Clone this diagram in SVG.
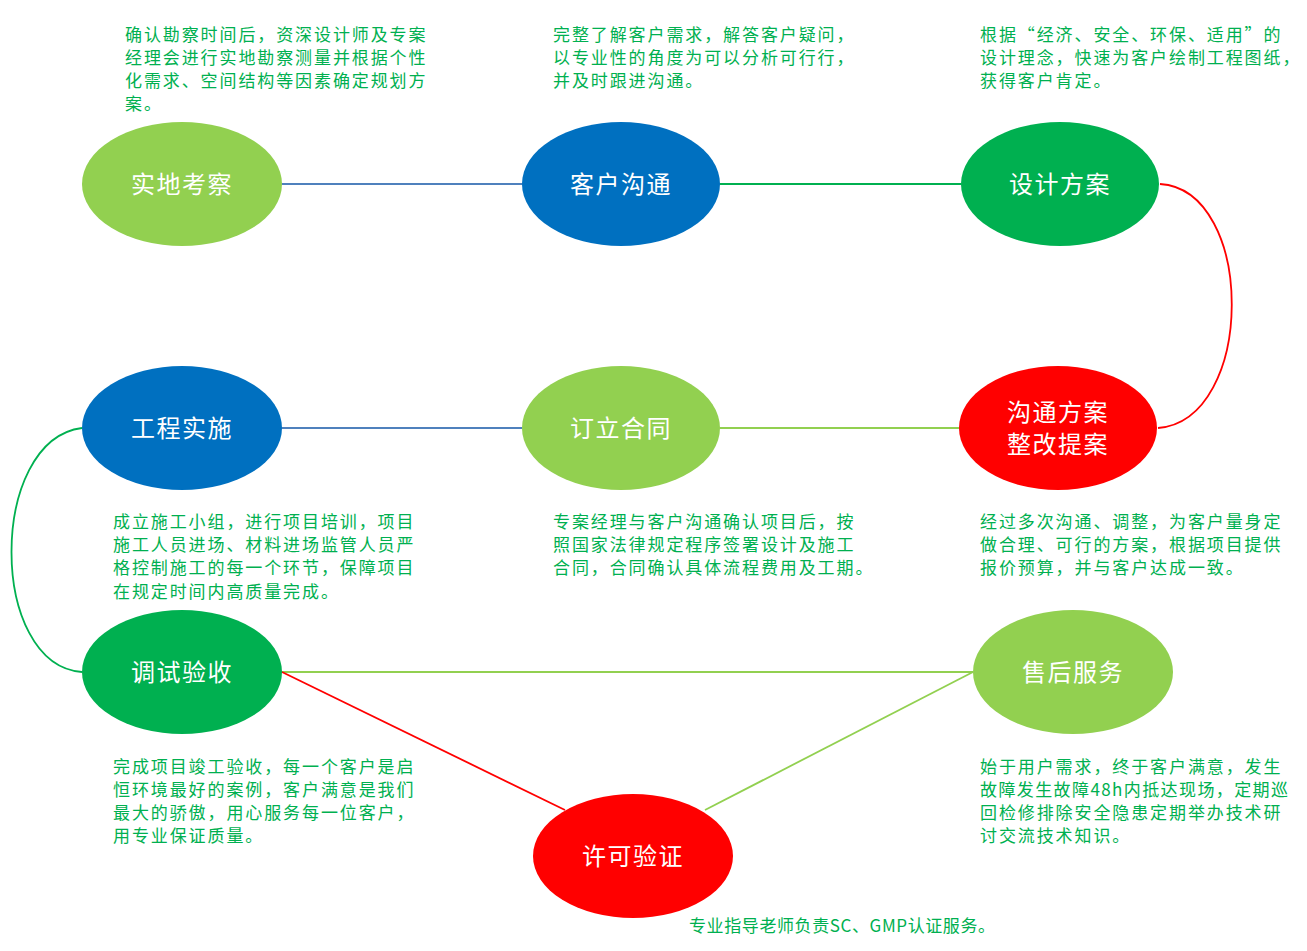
<svg xmlns="http://www.w3.org/2000/svg" width="1307" height="951" viewBox="0 0 1307 951">
<style>
.desc{font-family:"Noto Sans CJK SC","Liberation Serif",serif;font-size:17px;fill:#00B050;letter-spacing:1.9px}
.lbl{font-family:"Noto Sans CJK SC","Liberation Sans",sans-serif;font-size:24px;fill:#FFFFFF;text-anchor:middle;letter-spacing:1.5px}
.c{fill:none;stroke-width:1.8}
</style>
<rect width="1307" height="951" fill="#FFFFFF"/>
<g id="connectors">
<line class="c" x1="282" y1="184" x2="522" y2="184" stroke="#4F81BD"/>
<line class="c" x1="720" y1="184" x2="961" y2="184" stroke="#00B050"/>
<path class="c" d="M1160,184 C1256,190 1256,420 1158,428" stroke="#FF0000"/>
<line class="c" x1="720" y1="428" x2="959" y2="428" stroke="#92D050"/>
<line class="c" x1="282" y1="428" x2="522" y2="428" stroke="#4F81BD"/>
<path class="c" d="M82,428 C-12,440 -12,665 82,672" stroke="#00B050"/>
<line class="c" x1="282" y1="672" x2="973" y2="672" stroke="#92D050"/>
<line class="c" x1="282" y1="672" x2="565" y2="810" stroke="#FF0000"/>
<line class="c" x1="705" y1="810" x2="973" y2="672" stroke="#92D050"/>
</g>
<g id="n1"><ellipse cx="182" cy="184" rx="100" ry="62" fill="#92D050"/><text class="lbl" x="182" y="193">实地考察</text></g>
<g id="n2"><ellipse cx="621" cy="184" rx="99" ry="62" fill="#0070C0"/><text class="lbl" x="621" y="193">客户沟通</text></g>
<g id="n3"><ellipse cx="1060" cy="184" rx="99" ry="62" fill="#00B050"/><text class="lbl" x="1060" y="193">设计方案</text></g>
<g id="n4"><ellipse cx="1058" cy="428" rx="99" ry="62" fill="#FF0000"/><text class="lbl" x="1058" y="421">沟通方案</text><text class="lbl" x="1058" y="453">整改提案</text></g>
<g id="n5"><ellipse cx="621" cy="428" rx="99" ry="62" fill="#92D050"/><text class="lbl" x="621" y="437">订立合同</text></g>
<g id="n6"><ellipse cx="182" cy="428" rx="100" ry="62" fill="#0070C0"/><text class="lbl" x="182" y="437">工程实施</text></g>
<g id="n7"><ellipse cx="182" cy="672" rx="100" ry="62" fill="#00B050"/><text class="lbl" x="182" y="681">调试验收</text></g>
<g id="n8"><ellipse cx="1073" cy="672" rx="100" ry="62" fill="#92D050"/><text class="lbl" x="1073" y="681">售后服务</text></g>
<g id="n9"><ellipse cx="633" cy="856" rx="100" ry="62" fill="#FF0000"/><text class="lbl" x="633" y="865">许可验证</text></g>
<g id="texts">
<text class="desc" x="125" y="41">确认勘察时间后，资深设计师及专案</text>
<text class="desc" x="125" y="64">经理会进行实地勘察测量并根据个性</text>
<text class="desc" x="125" y="87">化需求、空间结构等因素确定规划方</text>
<text class="desc" x="125" y="110">案。</text>
<text class="desc" x="553" y="41">完整了解客户需求，解答客户疑问，</text>
<text class="desc" x="553" y="64">以专业性的角度为可以分析可行行，</text>
<text class="desc" x="553" y="87">并及时跟进沟通。</text>
<text class="desc" x="980" y="41">根据“经济、安全、环保、适用”的</text>
<text class="desc" x="980" y="64">设计理念，快速为客户绘制工程图纸，</text>
<text class="desc" x="980" y="87">获得客户肯定。</text>
<text class="desc" x="113" y="528">成立施工小组，进行项目培训，项目</text>
<text class="desc" x="113" y="551">施工人员进场、材料进场监管人员严</text>
<text class="desc" x="113" y="574">格控制施工的每一个环节，保障项目</text>
<text class="desc" x="113" y="598">在规定时间内高质量完成。</text>
<text class="desc" x="553" y="528">专案经理与客户沟通确认项目后，按</text>
<text class="desc" x="553" y="551">照国家法律规定程序签署设计及施工</text>
<text class="desc" x="553" y="574">合同，合同确认具体流程费用及工期。</text>
<text class="desc" x="980" y="528">经过多次沟通、调整，为客户量身定</text>
<text class="desc" x="980" y="551">做合理、可行的方案，根据项目提供</text>
<text class="desc" x="980" y="574">报价预算，并与客户达成一致。</text>
<text class="desc" x="113" y="773">完成项目竣工验收，每一个客户是启</text>
<text class="desc" x="113" y="796">恒环境最好的案例，客户满意是我们</text>
<text class="desc" x="113" y="819">最大的骄傲，用心服务每一位客户，</text>
<text class="desc" x="113" y="842">用专业保证质量。</text>
<text class="desc" x="980" y="773">始于用户需求，终于客户满意，发生</text>
<text class="desc" x="980" y="796" style="letter-spacing:1.4px">故障发生故障48h内抵达现场，定期巡</text>
<text class="desc" x="980" y="819">回检修排除安全隐患定期举办技术研</text>
<text class="desc" x="980" y="842">讨交流技术知识。</text>
<text class="desc" x="689" y="932" style="letter-spacing:0.6px">专业指导老师负责SC、GMP认证服务。</text>
</g>
</svg>
